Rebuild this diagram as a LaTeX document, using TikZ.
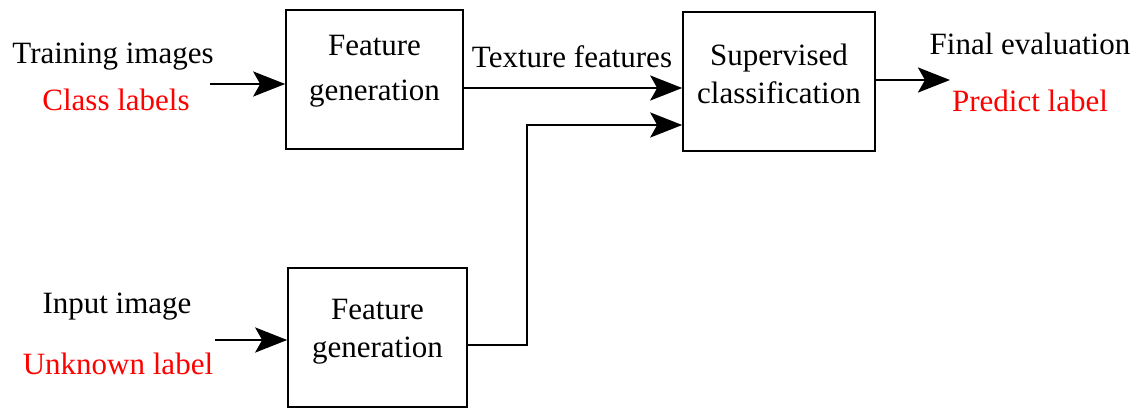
\documentclass[tikz,border=0pt]{standalone}
\usepackage{fontspec}
\setmainfont{Liberation Serif}
\usetikzlibrary{arrows.meta}
\begin{document}
\begin{tikzpicture}[x=1pt,y=-1pt,
  txt/.style={font=\fontsize{31}{38}\selectfont, inner sep=0pt},
  red txt/.style={txt, text=red},
  proc/.style={draw, line width=1.6pt, minimum width=#1, minimum height=139pt},
  boxtxt/.style={align=center, inner sep=0pt, font=\fontsize{31}{38}\selectfont},
  flow/.style={line width=2.8pt, -{Stealth[length=32pt,width=25pt,inset=7pt]}}]
\useasboundingbox (0,0) rectangle (1140,409);
% processing boxes
\node[proc=177pt] (fg1) at (374.5,79.5) {};
\node[proc=192pt] (sc) at (779,81.5) {};
\node[proc=179pt] (fg2) at (377.5,337.5) {};
% box captions
\node[boxtxt] (fg1t) at (374.5,71.5) {Feature\\[7pt]generation};
\node[boxtxt] (sct) at (779,73.5) {Supervised\\classification};
\node[boxtxt] (fg2t) at (377.5,332) {Feature\\generation};
% inputs and outputs
\node[txt] (train) at (113,57) {Training images};
\node[red txt] (cls) at (116,100) {Class labels};
\node[txt] (inimg) at (117,307) {Input image};
\node[red txt] (unk) at (118,364) {Unknown label};
\node[txt] (tex) at (572,57) {Texture features};
\node[txt] (final) at (1030,44) {Final evaluation};
\node[red txt] (pred) at (1030,101) {Predict label};
% connector anchors
\coordinate (a1) at (210,84);
\coordinate (a2) at (215,340);
\coordinate (out) at (950,80);
\coordinate (bend) at (527,125);
% connectors
\draw[flow] (a1) -- (a1 -| fg1.west);
\draw[flow] (a2) -- (a2 -| fg2.west);
\draw[flow] (fg1.east |- 0,88) -- (sc.west |- 0,88);
\draw[flow] (fg2.east |- 0,345) -| (bend) -- (bend -| sc.west);
\draw[flow] (sc.east |- out) -- (out);
\end{tikzpicture}
\end{document}
